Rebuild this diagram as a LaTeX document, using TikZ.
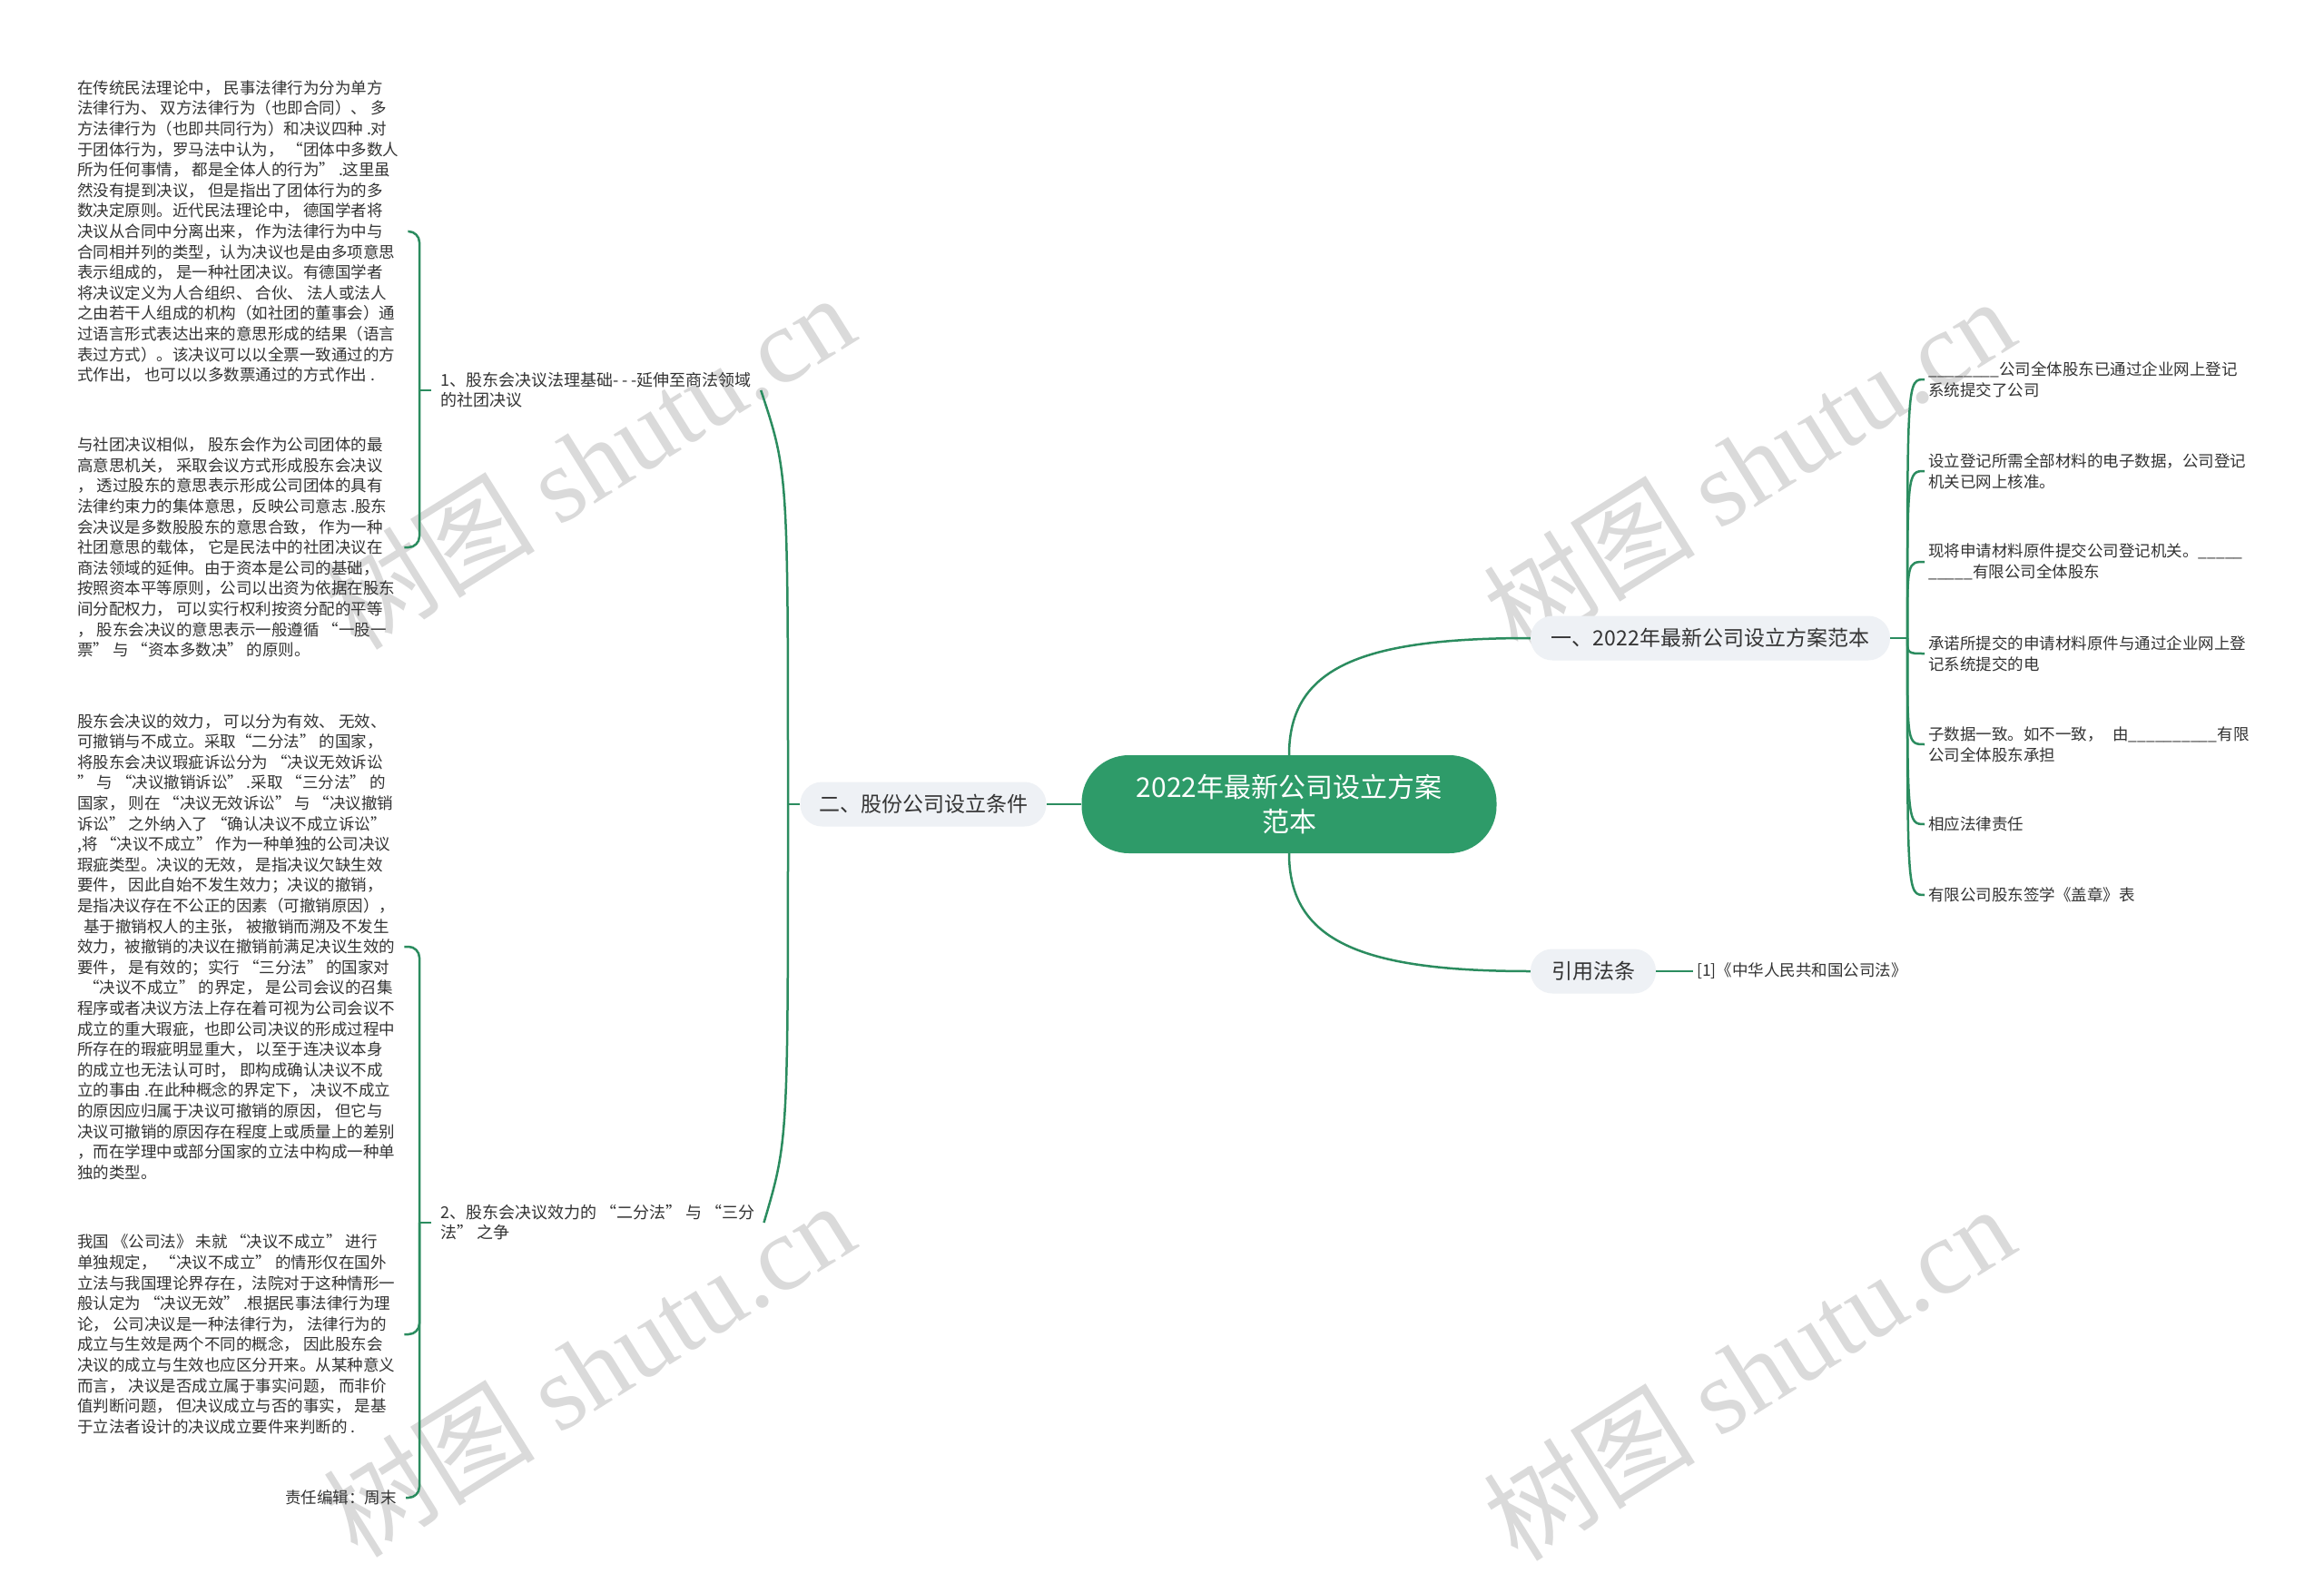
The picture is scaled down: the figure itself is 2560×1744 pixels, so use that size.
\documentclass[tikz,border=0pt]{standalone}
\usepackage{fontspec}
\setmainfont{Noto Sans CJK SC}
\newfontfamily\wmlatin{Liberation Serif}
\usepackage{xcolor}
\usetikzlibrary{positioning, calc}

\definecolor{mapgreen}{HTML}{2E9B69}
\definecolor{mapline}{HTML}{2B8C5F}
\definecolor{topicgray}{HTML}{EEF1F5}
\definecolor{inktext}{HTML}{333333}
\definecolor{wmgray}{HTML}{DADADA}

\begin{document}
\begin{tikzpicture}[x=1pt, y=-1pt,
  rootbox/.style={fill=mapgreen, rounded corners=52pt, minimum width=457pt, minimum height=108pt,
    text=white, align=center, font=\fontsize{30}{38}\selectfont},
  topicbox/.style={fill=topicgray, rounded corners=24pt, minimum height=49pt, inner xsep=18pt,
    text=inktext, font=\fontsize{23}{28}\selectfont},
  subtext/.style={inner ysep=0pt, inner xsep=10pt, text=inktext, align=left, font=\fontsize{18}{22}\selectfont},
  leaftext/.style={inner ysep=0pt, inner xsep=4pt, text=inktext, align=left, font=\fontsize{17.5}{22.8}\selectfont},
  bodytext/.style={inner ysep=0pt, inner xsep=10pt, text=inktext, align=left, font=\fontsize{17.5}{22.6}\selectfont},
  link/.style={draw=mapline, line width=2.5pt},
  watermark/.style={text=wmgray, rotate=32, font=\fontsize{117}{117}\selectfont}]

  \fill[white] (0,0) rectangle (2560,1744);
  \useasboundingbox (0,0) rectangle (2560,1744);

  \node[watermark] (wm1) at (648,508) {树图 {\wmlatin shutu.cn}};
  \node[watermark] (wm2) at (1926,512) {树图 {\wmlatin shutu.cn}};
  \node[watermark] (wm3) at (648,1508) {树图 {\wmlatin shutu.cn}};
  \node[watermark] (wm4) at (1926,1512) {树图 {\wmlatin shutu.cn}};

  \node[rootbox] (root) at (1420,886) {2022年最新公司设立方案\\范本};
  \node[topicbox, minimum width=396pt] (plan) at (1884,703) {一、2022年最新公司设立方案范本};
  \node[topicbox, minimum width=138pt] (law) at (1755,1070) {引用法条};
  \node[topicbox, minimum width=271pt] (cond) at (1017,886) {二、股份公司设立条件};

  \node[leaftext, anchor=west] (cite) at (1865,1070) {[1]《中华人民共和国公司法》};

  \node[leaftext, anchor=west] (leaf1) at (2120,418) {\_\_\_\_\_\_\_\_公司全体股东已通过企业网上登记\\系统提交了公司};
  \node[leaftext, anchor=west] (leaf2) at (2120,519) {设立登记所需全部材料的电子数据，公司登记\\机关已网上核准。};
  \node[leaftext, anchor=west] (leaf3) at (2120,619) {现将申请材料原件提交公司登记机关。\_\_\_\_\_\\\_\_\_\_\_有限公司全体股东};
  \node[leaftext, anchor=west] (leaf4) at (2120,720) {承诺所提交的申请材料原件与通过企业网上登\\记系统提交的电};
  \node[leaftext, anchor=west] (leaf5) at (2120,820) {子数据一致。如不一致，\hspace{0.6em}由\_\_\_\_\_\_\_\_\_\_有限\\公司全体股东承担};
  \node[leaftext, anchor=west] (leaf6) at (2120,908) {相应法律责任};
  \node[leaftext, anchor=west] (leaf7) at (2120,986) {有限公司股东签学《盖章》表};

  \node[subtext, anchor=west] (sub1) at (475,430) {1、股东会决议法理基础- - -延伸至商法领域\\的社团决议};
  \node[subtext, anchor=west] (sub2) at (475,1347) {2、股东会决议效力的 “二分法” 与 “三分\\法” 之争};

  \node[bodytext, anchor=west] (body1) at (75,255) {在传统民法理论中， 民事法律行为分为单方\\
法律行为、 双方法律行为（也即合同）、 多\\
方法律行为（也即共同行为）和决议四种 .对\\
于团体行为，罗马法中认为， “团体中多数人\\
所为任何事情， 都是全体人的行为” .这里虽\\
然没有提到决议， 但是指出了团体行为的多\\
数决定原则。近代民法理论中， 德国学者将\\
决议从合同中分离出来， 作为法律行为中与\\
合同相并列的类型，认为决议也是由多项意思\\
表示组成的， 是一种社团决议。有德国学者\\
将决议定义为人合组织、 合伙、 法人或法人\\
之由若干人组成的机构（如社团的董事会）通\\
过语言形式表达出来的意思形成的结果（语言\\
表过方式）。该决议可以以全票一致通过的方\\
式作出， 也可以以多数票通过的方式作出 .};

  \node[bodytext, anchor=west] (body2) at (75,603) {与社团决议相似， 股东会作为公司团体的最\\
高意思机关， 采取会议方式形成股东会决议\\
， 透过股东的意思表示形成公司团体的具有\\
法律约束力的集体意思，反映公司意志 .股东\\
会决议是多数股股东的意思合致， 作为一种\\
社团意思的载体， 它是民法中的社团决议在\\
商法领域的延伸。由于资本是公司的基础，\\
按照资本平等原则，公司以出资为依据在股东\\
间分配权力， 可以实行权利按资分配的平等\\
， 股东会决议的意思表示一般遵循 “一股一\\
票” 与 “资本多数决” 的原则。};

  \node[bodytext, anchor=west] (body3) at (75,1043) {股东会决议的效力， 可以分为有效、 无效、\\
可撤销与不成立。采取“二分法” 的国家，\\
将股东会决议瑕疵诉讼分为 “决议无效诉讼\\
” 与 “决议撤销诉讼” .采取 “三分法” 的\\
国家， 则在 “决议无效诉讼” 与 “决议撤销\\
诉讼” 之外纳入了 “确认决议不成立诉讼”\\
,将 “决议不成立” 作为一种单独的公司决议\\
瑕疵类型。决议的无效， 是指决议欠缺生效\\
要件， 因此自始不发生效力；决议的撤销，\\
是指决议存在不公正的因素（可撤销原因），\\
\hspace*{0.4em}基于撤销权人的主张， 被撤销而溯及不发生\\
效力，被撤销的决议在撤销前满足决议生效的\\
要件， 是有效的；实行 “三分法” 的国家对\\
\hspace*{0.4em}“决议不成立” 的界定， 是公司会议的召集\\
程序或者决议方法上存在着可视为公司会议不\\
成立的重大瑕疵，也即公司决议的形成过程中\\
所存在的瑕疵明显重大， 以至于连决议本身\\
的成立也无法认可时， 即构成确认决议不成\\
立的事由 .在此种概念的界定下， 决议不成立\\
的原因应归属于决议可撤销的原因， 但它与\\
决议可撤销的原因存在程度上或质量上的差别\\
，而在学理中或部分国家的立法中构成一种单\\
独的类型。};

  \node[bodytext, anchor=west] (body4) at (75,1470) {我国 《公司法》 未就 “决议不成立” 进行\\
单独规定， “决议不成立” 的情形仅在国外\\
立法与我国理论界存在，法院对于这种情形一\\
般认定为 “决议无效” .根据民事法律行为理\\
论， 公司决议是一种法律行为， 法律行为的\\
成立与生效是两个不同的概念， 因此股东会\\
决议的成立与生效也应区分开来。从某种意义\\
而言， 决议是否成立属于事实问题， 而非价\\
值判断问题， 但决议成立与否的事实， 是基\\
于立法者设计的决议成立要件来判断的 .};

  \node[bodytext, anchor=east] (editor) at (447,1650) {责任编辑：周末};

  \draw[link] (root.north) .. controls (1420,735) and (1500,703) .. (plan.west);
  \draw[link] (root.south) .. controls (1420,1037) and (1500,1070) .. (law.west);
  \draw[link] (root.west) -- (cond.east);
  \draw[link] (law.east) -- (cite.west);

  \coordinate (plantrunk) at (2101,703);
  \draw[link] (plan.east) -- (plantrunk);
  \foreach \i in {1,...,7}
    \draw[link] (plantrunk) .. controls (plantrunk |- leaf\i.west) .. (leaf\i.west);

  \coordinate (condfork) at (868,886);
  \draw[link] (cond.west) -- (condfork);
  \draw[link] (condfork) .. controls (868,520) .. (sub1.east);
  \draw[link] (condfork) .. controls (868,1257) .. (sub2.east);

  \coordinate (sub1fork) at (462,430);
  \draw[link] (sub1.west) -- (sub1fork);
  \draw[link, rounded corners=12pt] (sub1fork) |- (body1.east);
  \draw[link, rounded corners=12pt] (sub1fork) |- (body2.east);

  \coordinate (sub2fork) at (462,1347);
  \draw[link] (sub2.west) -- (sub2fork);
  \draw[link, rounded corners=12pt] (sub2fork) |- (body3.east);
  \draw[link, rounded corners=12pt] (sub2fork) |- (body4.east);
  \draw[link, rounded corners=12pt] (sub2fork) |- (editor.east);
\end{tikzpicture}
\end{document}
